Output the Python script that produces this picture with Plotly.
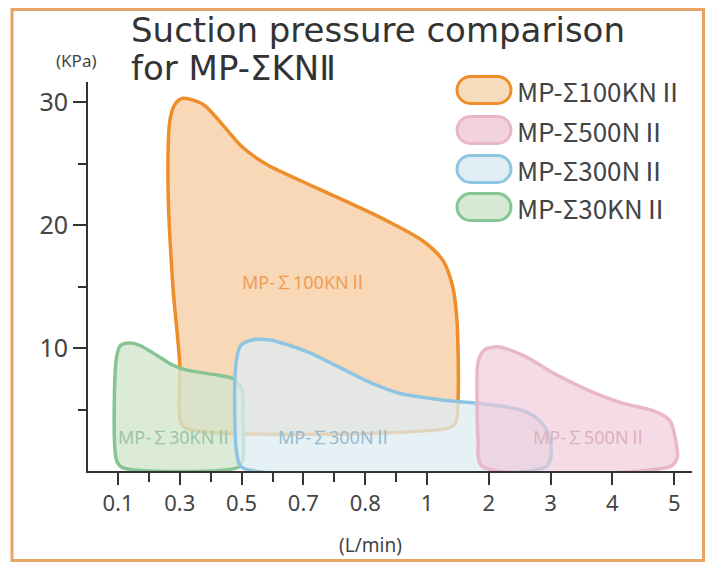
import plotly.graph_objects as go

# ---------------- data ----------------
# x axis: evenly spaced "scale index" positions with their L/min labels
tick_pos = [0, 2, 4, 6, 8, 10, 12, 14, 16, 18]
tick_text = ["0.1", "0.3", "0.5", "0.7", "0.8", "1", "2", "3", "4", "5"]
minor_pos = [1, 3, 5, 7, 9]
y_ticks = [10, 20, 30]
y_minor = [5, 15, 25]

series_names = ["MP-Σ100KNⅡ", "MP-Σ500NⅡ", "MP-Σ300NⅡ", "MP-Σ30KNⅡ"]
inner_labels = ["MP-∑100KNⅡ", "MP-∑500NⅡ", "MP-∑300NⅡ", "MP-∑30KNⅡ"]

# outline of each operating range (x in scale index, y in kPa)
x_100kn = [2.18, 2.00, 2.00, 1.78, 1.62, 1.68, 1.84, 2.10, 2.76, 3.40, 4.04, 4.83, 6.44, 8.58, 9.87,
           10.52, 10.84, 10.97, 11.01, 10.93, 10.73, 2.18]
y_100kn = [3.5, 4.3, 8.6, 14.9, 23.0, 28.5, 29.8, 30.3, 29.8, 28.1, 26.3, 24.9, 23.0, 20.5, 18.7,
           17.1, 14.9, 12.2, 6.2, 3.9, 3.5, 3.5]

x_30kn = [0.13, -0.05, -0.05, 0.08, 0.39, 0.72, 1.26, 1.78, 2.23, 3.21, 3.72, 4.01, 4.04, 4.04, 3.89, 0.13]
y_30kn = [0.3, 0.9, 9.2, 10.2, 10.4, 10.2, 9.4, 8.6, 8.2, 7.8, 7.5, 6.6, 4.3, 0.9, 0.3, 0.3]

x_300n = [4.01, 3.84, 3.78, 3.82, 3.97, 4.33, 4.92, 5.57, 6.21, 7.19, 8.15, 9.13, 10.43, 12.03, 13.11,
          13.64, 13.94, 14.01, 13.82, 4.01]
y_300n = [0.3, 1.5, 4.3, 8.8, 10.2, 10.65, 10.65, 10.2, 9.6, 8.4, 7.2, 6.3, 5.8, 5.4, 4.9,
          4.1, 2.9, 1.1, 0.3, 0.3]

x_500n = [11.78, 11.65, 11.62, 11.65, 11.84, 12.27, 13.11, 14.21, 15.28, 16.35, 17.31, 17.86, 18.03,
          18.10, 17.89, 11.78]
y_500n = [0.4, 2.7, 5.9, 8.8, 9.8, 10.1, 9.4, 7.8, 6.5, 5.5, 4.9, 4.1, 2.7, 1.1, 0.4, 0.4]

label_x = [6.02, 15.27, 7.02, 1.84]
label_y = [15.4, 2.8, 2.8, 2.8]

# ---------------- styles ----------------
line_cols = ["#EE8E2A", "#E9B7CA", "#8EC6E2", "#86C494"]
fill_cols = ["rgba(248,214,178,0.95)", "rgba(240,200,215,0.65)",
             "rgba(222,236,243,0.75)", "rgba(210,230,206,0.8)"]
text_cols = ["#EE9E55", "#DDB0C0", "#96BBD0", "#9CC4A6"]

shapes_data = {
    0: (x_100kn, y_100kn),
    1: (x_500n, y_500n),
    2: (x_300n, y_300n),
    3: (x_30kn, y_30kn),
}

fig = go.Figure()
for i in [0, 3, 2, 1]:
    xs, ys = shapes_data[i]
    fig.add_trace(go.Scatter(
        x=xs, y=ys, mode="lines", fill="toself", name=series_names[i],
        line=dict(color=line_cols[i], width=3.5, shape="spline", smoothing=0.8),
        fillcolor=fill_cols[i], showlegend=False, hoverinfo="skip"))

for i in range(4):
    fig.add_annotation(x=label_x[i], y=label_y[i], text=inner_labels[i], showarrow=False,
                       xanchor="center", yanchor="middle",
                       font=dict(family="Noto Sans, Noto Sans CJK JP", size=18, color=text_cols[i]))

# ---------------- layout geometry ----------------
# page has an 8px body margin; positions below are page pixels
OFF = 8
W, H = 713 - 2 * OFF, 570 - 2 * OFF
AX_L, AX_R, AX_T, AX_B = 88, 692, 82, 471
ml, mr, mt, mb = AX_L - OFF, W + OFF - AX_R, AX_T - OFF, H + OFF - AX_B
pw, ph = AX_R - AX_L, AX_B - AX_T


def px(xp):
    return (xp - AX_L) / pw


def py(yp):
    return (AX_B - yp) / ph


# custom legend (rounded swatches)
def stadium(w, h):
    r = h / 2
    k = 0.5523 * r
    a, b = w / 2, h / 2
    return (f"M {-a + r},{-b} L {a - r},{-b} "
            f"C {a - r + k},{-b} {a},{-k} {a},0 "
            f"C {a},{k} {a - r + k},{b} {a - r},{b} "
            f"L {-a + r},{b} "
            f"C {-a + r - k},{b} {-a},{k} {-a},0 "
            f"C {-a},{-k} {-a + r - k},{-b} {-a + r},{-b} Z")


leg_y = [90, 130, 169, 207]
leg_fill = ["#F8DCBE", "#F1D2DE", "#E1EEF5", "#D7E8D4"]
for i in range(4):
    fig.add_shape(type="path", xref="paper", yref="paper", xsizemode="pixel", ysizemode="pixel",
                  xanchor=px(484), yanchor=py(leg_y[i]), path=stadium(54, 27),
                  line=dict(color=line_cols[i], width=3), fillcolor=leg_fill[i])
    fig.add_annotation(xref="paper", yref="paper", x=px(515), y=py(leg_y[i]), xanchor="left",
                       yanchor="middle", text=series_names[i], showarrow=False,
                       font=dict(family="Noto Sans CJK JP", size=26, color="#444444"))

# title (two lines)
fig.add_annotation(xref="paper", yref="paper", x=px(129), y=py(30), xanchor="left", yanchor="middle",
                   showarrow=False, text="Suction pressure comparison",
                   font=dict(family="DejaVu Sans", size=34, color="#333333"))
fig.add_annotation(xref="paper", yref="paper", x=px(129), y=py(68), xanchor="left", yanchor="middle",
                   showarrow=False, text="for MP-ΣKNⅡ",
                   font=dict(family="DejaVu Sans", size=34, color="#333333"))
# axis titles
fig.add_annotation(xref="paper", yref="paper", x=px(76), y=py(60), showarrow=False, text="(KPa)",
                   xanchor="center", yanchor="middle",
                   font=dict(family="Noto Sans", size=17, color="#444444"))
fig.add_annotation(xref="paper", yref="paper", x=px(370), y=py(545), showarrow=False, text="(L/min)",
                   xanchor="center", yanchor="middle",
                   font=dict(family="Noto Sans", size=19, color="#444444"))

# outer frame (clamped to the drawable page area)
fig.add_shape(type="rect", xref="paper", yref="paper", x0=px(12), x1=px(703.5), y0=py(560.5), y1=py(9.5),
              line=dict(color="#E6A466", width=3), fillcolor="rgba(0,0,0,0)", layer="below")

x_per_unit = 30.9
x0_px = 118
y_per_unit = 12.3
fig.update_xaxes(range=[(AX_L - x0_px) / x_per_unit, (AX_R - x0_px) / x_per_unit],
                 tickmode="array", tickvals=tick_pos, ticktext=tick_text,
                 ticks="outside", ticklen=12, tickwidth=2, tickcolor="#333333",
                 showline=True, linecolor="#333333", linewidth=2, showgrid=False, zeroline=False,
                 tickfont=dict(family="Noto Sans", size=22, color="#444444"),
                 minor=dict(tickmode="array", tickvals=minor_pos, ticks="outside", ticklen=9,
                            tickwidth=2, tickcolor="#333333", showgrid=False),
                 fixedrange=True)
fig.update_yaxes(range=[0, ph / y_per_unit], tickmode="array", tickvals=y_ticks,
                 ticks="outside", ticklen=13, tickwidth=2, tickcolor="#333333",
                 showline=True, linecolor="#333333", linewidth=2, showgrid=False, zeroline=False,
                 tickfont=dict(family="Noto Sans", size=25, color="#444444"),
                 minor=dict(tickmode="array", tickvals=y_minor, ticks="outside", ticklen=8,
                            tickwidth=2, tickcolor="#333333", showgrid=False),
                 fixedrange=True)

fig.update_layout(width=W, height=H, margin=dict(l=ml, r=mr, t=mt, b=mb, autoexpand=False),
                  paper_bgcolor="white", plot_bgcolor="white", showlegend=False)

fig.write_html("out.html")
